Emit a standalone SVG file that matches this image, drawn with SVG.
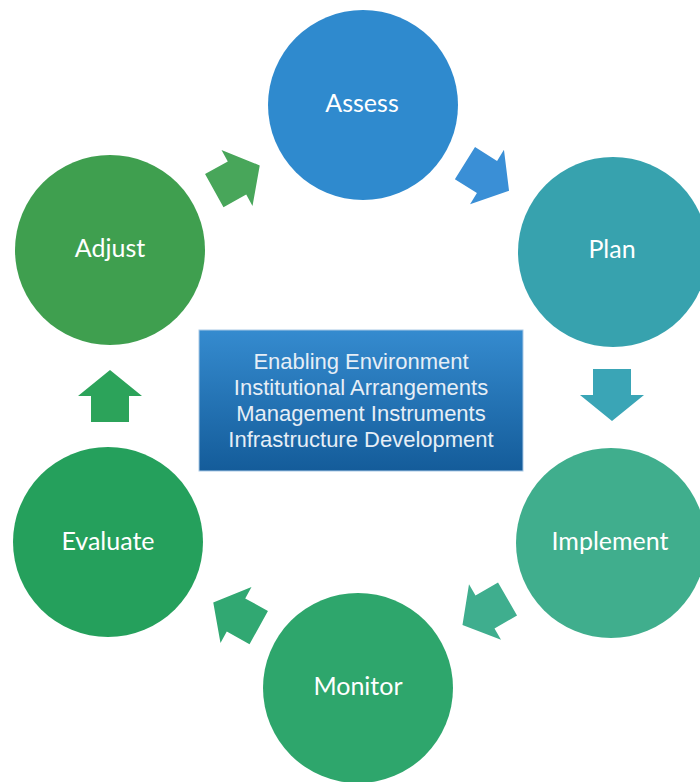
<svg xmlns="http://www.w3.org/2000/svg" width="700" height="782" viewBox="0 0 700 782">
  <style>
    .stage text { font-family: Lato, "Open Sans", "DejaVu Sans", sans-serif; font-size: 25px; fill: #ffffff; text-anchor: middle; }
    .core text { font-family: "Liberation Sans", Arial, sans-serif; font-size: 22px; fill: #e6eef6; text-anchor: middle; }
  </style>
  <defs>
    <!-- block arrow, head-base midpoint at the origin, pointing along +x -->
    <path id="blockArrow" d="M-26,-19 L0,-19 L0,-32 L26,0 L0,32 L0,19 L-26,19 Z"/>
    <linearGradient id="coreFill" x1="0" y1="0" x2="0" y2="1">
      <stop offset="0" stop-color="#358bcf"/>
      <stop offset="1" stop-color="#145c9a"/>
    </linearGradient>
  </defs>

  <rect width="700" height="782" fill="#ffffff"/>

  <!-- centre box -->
  <g id="core" class="core">
    <rect x="199" y="330" width="324" height="141" fill="url(#coreFill)" stroke="#a9c9e6" stroke-width="1"/>
    <text x="361" y="369">Enabling Environment</text>
    <text x="361" y="395">Institutional Arrangements</text>
    <text x="361" y="421">Management Instruments</text>
    <text x="361" y="447">Infrastructure Development</text>
  </g>

  <!-- cycle stages -->
  <g id="assess" class="stage">
    <circle cx="363" cy="105" r="95" fill="#2f8ace"/>
    <text x="362" y="112">Assess</text>
  </g>
  <g id="plan" class="stage">
    <circle cx="613" cy="252" r="95" fill="#37a2ae"/>
    <text x="612" y="258">Plan</text>
  </g>
  <g id="implement" class="stage">
    <circle cx="611" cy="543" r="95" fill="#40ae8d"/>
    <text x="610" y="550">Implement</text>
  </g>
  <g id="monitor" class="stage">
    <circle cx="358" cy="688" r="95" fill="#2ea66c"/>
    <text x="358" y="695">Monitor</text>
  </g>
  <g id="evaluate" class="stage">
    <circle cx="108" cy="542" r="95" fill="#25a05c"/>
    <text x="108" y="550">Evaluate</text>
  </g>
  <g id="adjust" class="stage">
    <circle cx="110" cy="250" r="95" fill="#3f9f4f"/>
    <text x="110" y="257">Adjust</text>
  </g>

  <!-- connectors -->
  <g id="connectors">
    <use href="#blockArrow" fill="#3a8fd6" transform="translate(487,177) rotate(32)"/>
    <use href="#blockArrow" fill="#3aa5b6" transform="translate(612,395) rotate(90)"/>
    <use href="#blockArrow" fill="#3fae8e" transform="translate(485,612) rotate(150)"/>
    <use href="#blockArrow" fill="#31a872" transform="translate(236,615) rotate(209)"/>
    <use href="#blockArrow" fill="#2ca35a" transform="translate(110,396) rotate(-90)"/>
    <use href="#blockArrow" fill="#48a65a" transform="translate(237,178) rotate(-29)"/>
  </g>
</svg>
